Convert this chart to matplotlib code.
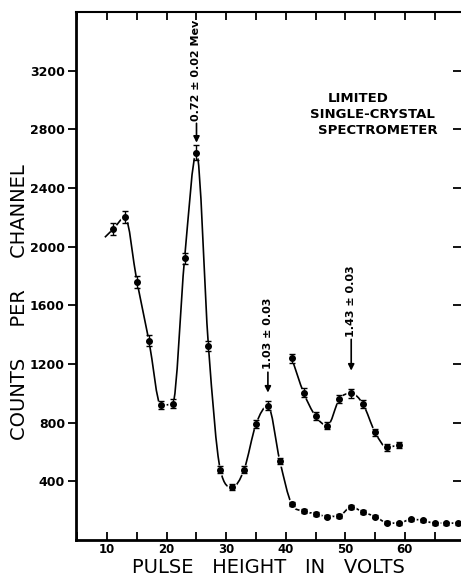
import numpy as np
import matplotlib.pyplot as plt
from matplotlib.path import Path
from matplotlib.patches import PathPatch
from matplotlib.ticker import MultipleLocator, FuncFormatter

# pulse height (volts) and counts per channel
main_x = [11, 13, 15, 17, 19, 21, 23, 25, 27, 29, 31, 33, 35, 37, 39, 41, 43, 45,
          47, 49, 51, 53, 55, 57, 59, 61, 63, 65, 67, 69]
main_y = [2120, 2200, 1760, 1360, 920, 930, 1920, 2640, 1325, 480, 360, 480, 790,
          915, 540, 245, 195, 180, 160, 165, 225, 190, 160, 118, 115, 140, 135,
          115, 115, 115]
main_err = [40, 40, 40, 35, 30, 30, 40, 50, 35, 22, 20, 22, 28, 30, 22, 15, 13, 13,
            12, 12, 15, 13, 12, 10, 10, 11, 11, 10, 10, 10]

# same tail, enlarged
upper_x = [41, 43, 45, 47, 49, 51, 53, 55, 57, 59]
upper_y = [1240, 1005, 845, 780, 960, 1000, 925, 735, 632, 648]
upper_err = [30, 28, 25, 25, 28, 30, 28, 25, 22, 22]

peaks = [(25, 2709, 2860, '0.72 ± 0.02 Mev'),
         (37, 1005, 1163, '1.03 ± 0.03'),
         (51, 1155, 1387, '1.43 ± 0.03')]


def smooth_path(xs, ys):
    # catmull-rom tangents, flattened at extremes, drawn as bezier segments
    x = np.asarray(xs, float)
    y = np.asarray(ys, float)
    h = np.diff(x)
    s = np.diff(y) / h
    d = np.zeros_like(y)
    d[0], d[-1] = s[0], s[-1]
    for k in range(1, len(x) - 1):
        if s[k - 1] * s[k] > 0:
            c = (y[k + 1] - y[k - 1]) / (x[k + 1] - x[k - 1])
            lim = 3 * min(abs(s[k - 1]), abs(s[k]))
            d[k] = np.sign(c) * min(abs(c), lim)
    verts = [(x[0], y[0])]
    codes = [Path.MOVETO]
    for k in range(len(x) - 1):
        verts += [(x[k] + h[k] / 3, y[k] + d[k] * h[k] / 3),
                  (x[k + 1] - h[k] / 3, y[k + 1] - d[k + 1] * h[k] / 3),
                  (x[k + 1], y[k + 1])]
        codes += [Path.CURVE4] * 3
    return Path(verts, codes)


plt.rcParams['font.family'] = 'DejaVu Sans'
fig = plt.figure(figsize=(4.61, 5.76), dpi=100)
ax = fig.add_axes([76 / 461, 36 / 576, 385 / 461, 528 / 576])

for xs, ys, err in [(main_x, main_y, main_err), (upper_x, upper_y, upper_err)]:
    ax.add_patch(PathPatch(smooth_path(xs, ys), fc='none', ec='k', lw=1.2, zorder=1))
    ax.plot(xs, ys, 'o', ms=6.5, color='white', zorder=2)
    ax.errorbar(xs, ys, yerr=err, fmt='o', ms=4, color='k', ecolor='k',
                elinewidth=1, capsize=2, capthick=1, zorder=3)

# short lead-in dash before the first point
ax.plot([main_x[0] - 1.3, main_x[0] - 0.5],
        [main_y[0] - (main_y[1] - main_y[0]) * 0.65, main_y[0] - (main_y[1] - main_y[0]) * 0.25],
        color='k', lw=1.2)

for x, tip, start, label in peaks:
    ax.annotate(label, xy=(x, tip), xytext=(x, start), rotation=90,
                ha='center', va='bottom', fontsize=8, fontweight='bold',
                arrowprops=dict(arrowstyle='-|>', color='k', lw=1.2,
                                mutation_scale=9, shrinkA=0, shrinkB=0))

ax.text(0.655, 0.837, 'LIMITED', transform=ax.transAxes, fontsize=9.5,
        fontweight='bold', ha='left', va='center')
ax.text(0.77, 0.805, 'SINGLE-CRYSTAL', transform=ax.transAxes, fontsize=9.5,
        fontweight='bold', ha='center', va='center')
ax.text(0.785, 0.775, 'SPECTROMETER', transform=ax.transAxes, fontsize=9.5,
        fontweight='bold', ha='center', va='center')

ax.set_xlim(4.75, 69.45)
ax.set_ylim(0, 3600)

ax.xaxis.set_major_locator(MultipleLocator(5))
ax.xaxis.set_major_formatter(FuncFormatter(lambda v, p: '%d' % v if v % 10 == 0 and v < 65 else ''))
ax.set_yticks([400, 800, 1200, 1600, 2000, 2400, 2800, 3200])

ax.tick_params(axis='x', which='both', direction='in', top=True, length=6, width=1.3,
               labelsize=8.5, pad=2)
ax.tick_params(axis='y', left=True, right=False, direction='out', length=6, width=1.3,
               labelsize=9, pad=2)
for lab in ax.get_xticklabels() + ax.get_yticklabels():
    lab.set_fontweight('bold')

# right-hand ticks (the right frame is cut off)
ax2 = ax.twinx()
ax2.set_ylim(ax.get_ylim())
ax2.set_yticks(ax.get_yticks())
ax2.tick_params(axis='y', direction='in', length=6, width=1.3, labelright=False)
for s in ['left', 'top', 'bottom', 'right']:
    ax2.spines[s].set_visible(False)

ax.spines['right'].set_visible(False)
ax.spines['left'].set_linewidth(2)
ax.spines['bottom'].set_linewidth(2)
ax.spines['top'].set_linewidth(1.5)

ax.text(0.5, -0.053, 'PULSE   HEIGHT   IN   VOLTS', transform=ax.transAxes,
        fontsize=14, ha='center', va='center')
ax.text(-0.148, 0.451, 'COUNTS     PER     CHANNEL', transform=ax.transAxes,
        fontsize=14, ha='center', va='center', rotation=90)

plt.savefig('out.png', dpi=100)
